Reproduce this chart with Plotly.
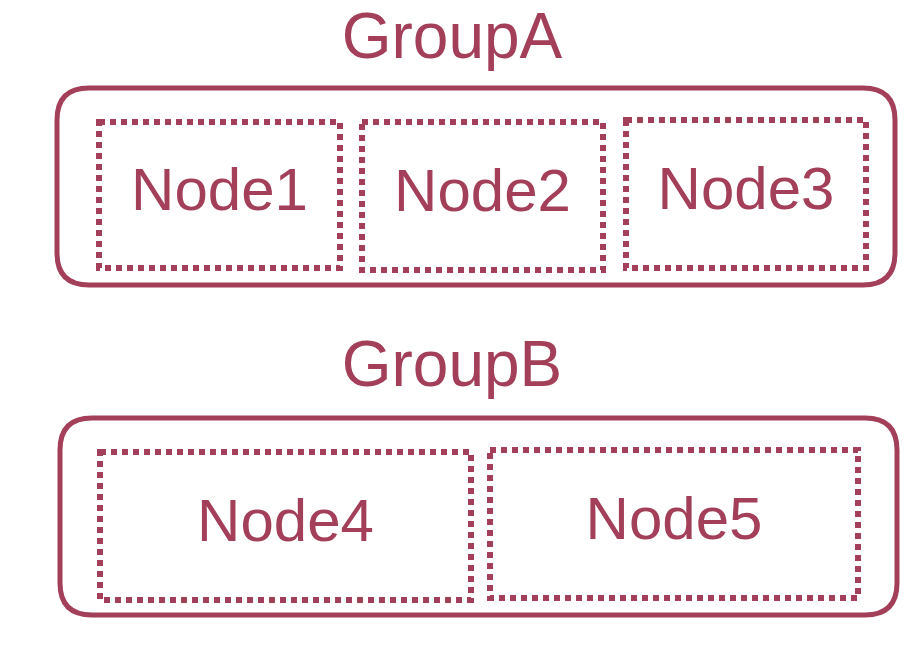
import plotly.graph_objects as go

COLOR = "#A33F58"
groups = ["GroupA", "GroupB"]
group_boxes = [(57, 88, 895, 285), (60, 418, 897, 615)]
group_label_pos = [(452, 42), (452, 370)]
nodes = ["Node1", "Node2", "Node3", "Node4", "Node5"]
node_boxes = [(99, 122, 340, 268), (362, 122, 603, 270), (626, 120, 866, 268),
              (100, 452, 471, 600), (490, 450, 858, 598)]

def rrect(x0, y0, x1, y1, r):
    return (f"M{x0+r},{y0} L{x1-r},{y0} Q{x1},{y0} {x1},{y0+r} L{x1},{y1-r} "
            f"Q{x1},{y1} {x1-r},{y1} L{x0+r},{y1} Q{x0},{y1} {x0},{y1-r} "
            f"L{x0},{y0+r} Q{x0},{y0} {x0+r},{y0} Z")

fig = go.Figure()
shapes = []
for b in group_boxes:
    shapes.append(dict(type="path", path=rrect(*b, 32), xref="x", yref="y",
                       line=dict(color=COLOR, width=5)))
for b in node_boxes:
    shapes.append(dict(type="rect", x0=b[0], y0=b[1], x1=b[2], y1=b[3], xref="x", yref="y",
                       line=dict(color=COLOR, width=6, dash="6px,5px")))

fig.add_trace(go.Scatter(
    x=[p[0] for p in group_label_pos], y=[p[1] for p in group_label_pos],
    text=groups, mode="text", textfont=dict(size=64, color=COLOR, family="Liberation Sans"),
    hoverinfo="skip"))
fig.add_trace(go.Scatter(
    x=[(b[0]+b[2])/2 for b in node_boxes], y=[(b[1]+b[3])/2 for b in node_boxes],
    text=nodes, mode="text", textfont=dict(size=60, color=COLOR, family="Liberation Sans"),
    hoverinfo="skip"))

fig.update_layout(
    width=922, height=664, margin=dict(l=0, r=0, t=0, b=0),
    paper_bgcolor="white", plot_bgcolor="white", showlegend=False, shapes=shapes,
    xaxis=dict(range=[8, 930], visible=False, fixedrange=True),
    yaxis=dict(range=[672, 8], visible=False, fixedrange=True),
)
fig.write_html("out.html")
